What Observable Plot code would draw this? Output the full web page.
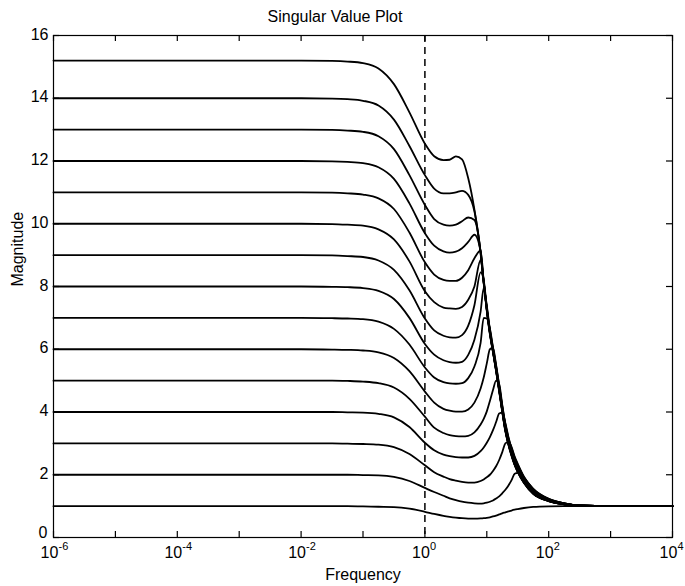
<!DOCTYPE html>
<html><head><meta charset="utf-8">
<script src="https://cdn.jsdelivr.net/npm/d3@7"></script>
<script src="https://cdn.jsdelivr.net/npm/@observablehq/plot@0.6"></script>
<style>body{margin:0;background:#fff}</style>
</head><body><div id="chart"></div>
<script>
// frequency samples as decade exponents (frequency = 10^exp)
const freqExp = [-6, -2, -1.5, -1.25, -1, -0.75, -0.5, -0.25, 0, 0.15, 0.3, 0.4, 0.5, 0.6, 0.7, 0.8, 0.9, 0.95, 1.0, 1.05, 1.1, 1.15, 1.2, 1.25, 1.3, 1.35, 1.4, 1.45, 1.5, 1.6, 1.75, 2.0, 2.25, 2.5, 3, 4];

const mag15 = [15.2,15.2,15.19,15.17,15.12,14.95,14.45,13.55, 12.55,12.15,12.03,12.04,12.15,12.05,11.45,10.45, 9.05,8.1,7.22,6.48,5.9,5.3,4.65,4.0,3.38,2.95,2.6,2.31,2.08, 1.74,1.39,1.16,1.06,1.01,1.0,1.0];
const mag14 = [14,14,13.99,13.97,13.92,13.77,13.32,12.48, 11.55,11.12,10.97,10.97,11.0,11.05,10.92,10.4, 9.08,8.12,7.25,6.5,5.92,5.32,4.68,4.02,3.4,2.97,2.62,2.32,2.09, 1.75,1.4,1.16,1.06,1.01,1.0,1.0];
const mag13 = [13,13,12.99,12.97,12.93,12.79,12.38,11.55, 10.6,10.15,9.97,9.94,9.97,10.08,10.2,10.12, 9.1,8.13,7.26,6.52,5.93,5.33,4.7,4.03,3.42,2.98,2.63,2.33,2.1, 1.75,1.4,1.16,1.06,1.01,1.0,1.0];
const mag12 = [12,12,11.99,11.97,11.93,11.8,11.43,10.65, 9.7,9.3,9.12,9.08,9.11,9.22,9.42,9.65, 9.12,8.14,7.27,6.53,5.94,5.35,4.71,4.04,3.43,2.99,2.64,2.34,2.11, 1.76,1.41,1.17,1.06,1.01,1.0,1.0];
const mag11 = [11,11,10.99,10.97,10.93,10.81,10.47,9.72, 8.77,8.38,8.21,8.18,8.18,8.28,8.52,8.9, 9.15,8.16,7.28,6.55,5.95,5.36,4.72,4.05,3.44,3.0,2.65,2.35,2.12, 1.76,1.41,1.17,1.06,1.01,1.0,1.0];
const mag10 = [10,10,9.99,9.97,9.94,9.82,9.5,8.8, 7.85,7.5,7.33,7.3,7.29,7.35,7.58,8.0, 8.85,8.18,7.3,6.56,5.96,5.37,4.73,4.06,3.45,3.01,2.66,2.36,2.13, 1.77,1.42,1.17,1.06,1.01,1.0,1.0];
const mag9  = [9,9,8.99,8.97,8.94,8.83,8.53,7.88, 6.98,6.6,6.43,6.38,6.37,6.45,6.75,7.4, 8.45,8.2,7.34,6.6,6.0,5.41,4.77,4.1,3.49,3.05,2.7,2.4,2.17, 1.8,1.44,1.18,1.07,1.01,1.0,1.0];
const mag8  = [8,8,7.99,7.98,7.95,7.86,7.6,7.0, 6.17,5.83,5.65,5.59,5.57,5.6,5.82,6.3, 7.2,7.95,7.38,6.63,6.03,5.44,4.8,4.13,3.52,3.08,2.73,2.43,2.2, 1.83,1.46,1.19,1.07,1.02,1.0,1.0];
const mag7  = [7,7,6.99,6.98,6.96,6.88,6.65,6.15, 5.42,5.1,4.95,4.91,4.9,4.92,5.08,5.45, 6.2,7.0,6.98,6.66,6.06,5.47,4.83,4.16,3.55,3.11,2.76,2.46,2.23, 1.86,1.48,1.2,1.08,1.02,1.0,1.0];
const mag6  = [6,6,5.99,5.98,5.96,5.9,5.72,5.3, 4.65,4.3,4.1,4.04,4.01,4.01,4.08,4.3, 4.75,5.1,5.55,6.0,6.04,5.5,4.86,4.19,3.58,3.14,2.79,2.49,2.26, 1.88,1.5,1.21,1.08,1.02,1.0,1.0];
const mag5  = [5,5,5,4.99,4.97,4.92,4.78,4.42, 3.85,3.5,3.33,3.26,3.23,3.22,3.24,3.35, 3.6,3.78,4.02,4.35,4.7,5.0,4.89,4.22,3.61,3.17,2.82,2.52,2.29, 1.9,1.52,1.22,1.09,1.02,1.0,1.0];
const mag4  = [4,4,4,3.99,3.98,3.94,3.83,3.52, 3.02,2.78,2.64,2.59,2.56,2.55,2.55,2.6, 2.75,2.87,3.02,3.2,3.42,3.68,3.95,3.98,3.64,3.2,2.85,2.55,2.32, 1.92,1.53,1.22,1.09,1.02,1.0,1.0];
const mag3  = [3,3,3,2.99,2.98,2.96,2.88,2.66, 2.3,2.08,1.94,1.86,1.81,1.77,1.75,1.75, 1.8,1.85,1.92,2.0,2.12,2.27,2.47,2.72,3.0,3.05,2.88,2.58,2.35, 1.94,1.55,1.23,1.09,1.02,1.0,1.0];
const mag2  = [2,2,2,2,1.99,1.98,1.93,1.8, 1.58,1.45,1.33,1.25,1.19,1.14,1.11,1.09, 1.08,1.09,1.11,1.14,1.18,1.24,1.31,1.41,1.52,1.66,1.83,2.03,2.06, 1.9,1.55,1.23,1.09,1.02,1.0,1.0];
const mag1  = [1,1,1,1,0.99,0.98,0.97,0.92, 0.82,0.75,0.69,0.66,0.635,0.615,0.603,0.6, 0.607,0.615,0.627,0.645,0.67,0.7,0.735,0.77,0.8,0.83,0.86,0.885,0.905, 0.94,0.975,0.995,1.0,1.0,1.0,1.0];

const series = [mag15, mag14, mag13, mag12, mag11, mag10, mag9, mag8, mag7, mag6, mag5, mag4, mag3, mag2, mag1];

const xTickExps = [-6,-5,-4,-3,-2,-1,0,1,2,3,4];
const xLabelExps = [-6,-4,-2,0,2,4];
const yTicks = [0,2,4,6,8,10,12,14,16];
const markerFreq = [1];

const title = "Singular Value Plot";
const xTitle = "Frequency";
const yTitle = "Magnitude";

const rows = series.flatMap((m, i) => m.map((v, j) => ({f: 10 ** freqExp[j], v, c: i})));

const W = 685, H = 586, mL = 53, mR = 13, mT = 35, mB = 49;
const fw = W - mL - mR, fh = H - mT - mB, tk = 6;

const chart = Plot.plot({
  width: W, height: H,
  marginLeft: mL, marginRight: mR, marginTop: mT, marginBottom: mB,
  x: {type: "log", domain: [1e-6, 1e4], axis: null},
  y: {domain: [0, 16], axis: null},
  style: {fontFamily: "'Liberation Sans', Arial, Helvetica, sans-serif", fontSize: "16px", background: "white", color: "black", overflow: "visible"},
  marks: [
    Plot.line(rows, {x: "f", y: "v", z: "c", curve: "monotone-x", stroke: "black", strokeWidth: 1.8}),
    Plot.ruleX(markerFreq, {stroke: "black", strokeWidth: 1.5, strokeDasharray: "7,5"}),
    Plot.frame({stroke: "black", strokeWidth: 1.2}),
    // inward ticks
    Plot.tickX(xTickExps, {x: d => 10 ** d, insetTop: fh - tk, stroke: "black", strokeWidth: 1.2}),
    Plot.tickX(xTickExps, {x: d => 10 ** d, insetBottom: fh - tk, stroke: "black", strokeWidth: 1.2}),
    Plot.tickY(yTicks, {y: d => d, insetRight: fw - tk, stroke: "black", strokeWidth: 1.2}),
    Plot.tickY(yTicks, {y: d => d, insetLeft: fw - tk, stroke: "black", strokeWidth: 1.2}),
    // tick labels (the 0 label sits a little higher so it clears the 10^-6 label)
    Plot.text(yTicks.filter(d => d > 0), {y: d => d, text: d => String(d), frameAnchor: "left", dx: -5, dy: -1, textAnchor: "end", lineAnchor: "middle", fontSize: 16}),
    Plot.text(yTicks.filter(d => d === 0), {y: d => d, text: d => String(d), frameAnchor: "left", dx: -6, dy: -5, textAnchor: "end", lineAnchor: "middle", fontSize: 16}),
    Plot.text(xLabelExps, {x: d => 10 ** d, text: () => "10", frameAnchor: "bottom", dx: -4, dy: 20, textAnchor: "middle", lineAnchor: "bottom", fontSize: 16}),
    Plot.text(xLabelExps, {x: d => 10 ** d, text: d => String(d), frameAnchor: "bottom", dx: 5, dy: 12, textAnchor: "start", lineAnchor: "bottom", fontSize: 11}),
    // titles
    Plot.text([xTitle], {text: d => d, frameAnchor: "bottom", dy: 42, lineAnchor: "bottom", fontSize: 16}),
    Plot.text([yTitle], {text: d => d, frameAnchor: "left", dx: -36, rotate: -90, lineAnchor: "middle", fontSize: 16}),
    Plot.text([title], {text: d => d, frameAnchor: "top", dx: -28, dy: -14, lineAnchor: "bottom", fontSize: 16})
  ]
});
document.getElementById("chart").append(chart);
</script>
</body></html>
